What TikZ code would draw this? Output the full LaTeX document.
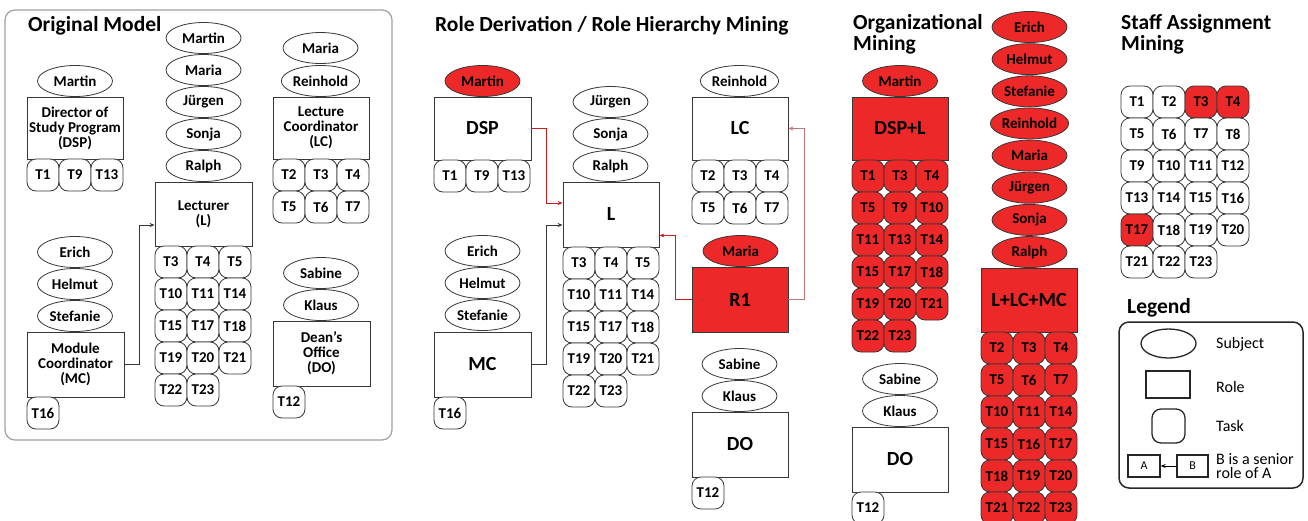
\documentclass[tikz,border=0pt]{standalone}
\usepackage{fontspec}
\setmainfont{Carlito}
\usetikzlibrary{arrows.meta,shapes.geometric}
\definecolor{myred}{RGB}{237,40,40}
\definecolor{edge}{RGB}{55,55,55}
\definecolor{arrred}{RGB}{200,30,30}
\definecolor{arrpink}{RGB}{195,120,120}
\definecolor{framegray}{RGB}{160,160,160}
\newcommand\tgrid[5]{%
  \foreach \tk [count=\ik from 0] in {#5} {%
    \pgfmathsetmacro\cx{#2+16+32*mod(\ik,3)}%
    \pgfmathsetmacro\cy{#3+16+32*int(\ik/3)}%
    \node[#4] (#1\tk) at (\cx,\cy) {\tk};
  }}
\tikzset{
  base/.style={draw=edge, line width=0.8pt, font=\fontsize{15}{15}\selectfont\bfseries, inner sep=0pt, text=black},
  subj/.style={base, ellipse, minimum width=75pt, minimum height=31pt, fill=white},
  subjr/.style={subj, fill=myred},
  role/.style={base, rectangle, minimum width=96pt, minimum height=63pt, align=center, fill=white},
  rolebig/.style={role, font=\fontsize{20}{21}\selectfont\bfseries},
  roler/.style={rolebig, fill=myred},
  task/.style={base, rectangle, rounded corners=9pt, minimum width=32pt, minimum height=32pt, fill=white},
  taskr/.style={task, fill=myred},
  title/.style={font=\fontsize{21.5}{21}\selectfont\bfseries, inner sep=0pt, align=left},
  arr/.style={draw=edge, line width=0.8pt, -{Stealth[length=5pt,width=4pt]}},
  lshape/.style={draw=black!85, line width=1.3pt, fill=white, inner sep=0pt, font=\fontsize{12}{12}\selectfont},
  ltext/.style={anchor=west, inner sep=0pt, font=\fontsize{16}{14}\selectfont, align=left},
}
\begin{document}
\begin{tikzpicture}[x=1pt,y=-1pt]
\useasboundingbox (0,0) rectangle (1308,520);
% ---------------- Original Model
\node[draw=framegray, line width=1.2pt, rounded corners=10pt, minimum width=387pt, minimum height=430pt, inner sep=0pt] (omframe) at (198.5,225) {};
\node[title, anchor=base west] (omtitle) at (28,31) {Original Model};
\node[subj] (om-dsp-s1) at (75,81) {Martin};
\node[role, minimum height=62pt] (om-dsp) at (75,128) {Director of\\Study Program\\(DSP)};
\tgrid{om-dsp-}{27}{159}{task}{T1,T9,T13}
\node[subj] (om-l-s1) at (203.5,38) {Martin};
\node[subj] (om-l-s2) at (203.5,70) {Maria};
\node[subj] (om-l-s3) at (203.5,102) {Jürgen};
\node[subj] (om-l-s4) at (203.5,134) {Sonja};
\node[subj] (om-l-s5) at (203.5,166) {Ralph};
\node[role, minimum width=97pt, minimum height=64pt] (om-l) at (203.5,214) {Lecturer\\(L)};
\tgrid{om-l-}{155}{246}{task}{T3,T4,T5,T10,T11,T14,T15,T17,T18,T19,T20,T21,T22,T23}
\node[subj] (om-lc-s1) at (320.5,48) {Maria};
\node[subj] (om-lc-s2) at (320.5,81) {Reinhold};
\node[role, minimum height=62pt] (om-lc) at (321,128) {Lecture\\Coordinator\\(LC)};
\tgrid{om-lc-}{273}{159}{task}{T2,T3,T4,T5,T6,T7}
\node[subj] (om-mc-s1) at (75,252) {Erich};
\node[subj] (om-mc-s2) at (75,284) {Helmut};
\node[subj] (om-mc-s3) at (75,316) {Stefanie};
\node[role, minimum width=97pt, minimum height=65pt] (om-mc) at (75.5,364.5) {Module\\Coordinator\\(MC)};
\tgrid{om-mc-}{27}{397}{task}{T16}
\node[subj] (om-do-s1) at (321,273) {Sabine};
\node[subj] (om-do-s2) at (321,305) {Klaus};
\node[role, minimum width=97pt, minimum height=65pt] (om-do) at (321.5,353.5) {Dean's\\Office\\(DO)};
\tgrid{om-do-}{273}{386}{task}{T12}
\draw[arr] (om-mc.east) -- ++(15,0) |- ([yshift=-11pt]om-l.west);
% ---------------- Role Derivation
\node[title, anchor=base west] (rdtitle) at (435,31) {Role Derivation / Role Hierarchy Mining};
\node[subjr] (rd-dsp-s1) at (482.5,81) {Martin};
\node[rolebig, minimum width=97pt] (rd-dsp) at (482.5,128.5) {DSP};
\tgrid{rd-dsp-}{434}{160}{task}{T1,T9,T13}
\node[subj] (rd-l-s1) at (610.5,102) {Jürgen};
\node[subj] (rd-l-s2) at (610.5,134) {Sonja};
\node[subj] (rd-l-s3) at (610.5,166) {Ralph};
\node[rolebig, minimum height=65pt] (rd-l) at (611,214.5) {L};
\tgrid{rd-l-}{563}{247}{task}{T3,T4,T5,T10,T11,T14,T15,T17,T18,T19,T20,T21,T22,T23}
\node[subj] (rd-lc-s1) at (739.5,81) {Reinhold};
\node[rolebig] (rd-lc) at (740,128.5) {LC};
\tgrid{rd-lc-}{692}{160}{task}{T2,T3,T4,T5,T6,T7}
\node[subjr] (rd-r1-s1) at (740.5,251) {Maria};
\node[roler, minimum height=65pt] (rd-r1) at (740,299.5) {R1};
\node[subj] (rd-do-s1) at (739.5,364) {Sabine};
\node[subj] (rd-do-s2) at (739.5,396) {Klaus};
\node[rolebig, minimum height=65pt] (rd-do) at (740,444.5) {DO};
\tgrid{rd-do-}{692}{477}{task}{T12}
\node[subj] (rd-mc-s1) at (482.5,251) {Erich};
\node[subj] (rd-mc-s2) at (482.5,283) {Helmut};
\node[subj] (rd-mc-s3) at (482.5,315) {Stefanie};
\node[rolebig, minimum width=97pt, minimum height=65pt] (rd-mc) at (482.5,364.5) {MC};
\tgrid{rd-mc-}{434}{397}{task}{T16}
\draw[arr, draw=arrred] (rd-dsp.east) -- ++(15,0) |- ([yshift=11.5pt]rd-l.west);
\draw[arr] (rd-mc.east) -- ++(15,0) |- ([yshift=-10.5pt]rd-l.west);
\draw[arr, draw=arrred] (rd-r1.west) -- ++(-16,0) |- ([yshift=-21pt]rd-l.east);
\draw[arr, draw=arrpink] (rd-r1.east) -- ++(16,0) |- (rd-lc.east);
% ---------------- Organizational Mining
\node[title, anchor=north west] (orgtitle) at (853,14) {Organizational\\Mining};
\node[subjr] (org-a-s1) at (900,81) {Martin};
\node[roler] (org-a) at (900,128.5) {DSP+L};
\tgrid{org-a-}{852}{160}{taskr}{T1,T3,T4,T5,T9,T10,T11,T13,T14,T15,T17,T18,T19,T20,T21,T22,T23}
\node[subj] (org-do-s1) at (900,379) {Sabine};
\node[subj] (org-do-s2) at (900,411) {Klaus};
\node[rolebig, minimum height=65pt] (org-do) at (900,459.5) {DO};
\tgrid{org-do-}{852}{492}{task}{T12}
\foreach \nm [count=\k from 0] in {Erich,Helmut,Stefanie,Reinhold,Maria,Jürgen,Sonja,Ralph}
  \node[subjr] (org-b-s\k) at (1029.5,{27+32.15*\k}) {\nm};
\node[roler, minimum height=64pt] (org-b) at (1029,300) {L+LC+MC};
\tgrid{org-b-}{981}{332}{taskr}{T2,T3,T4,T5,T6,T7,T10,T11,T14,T15,T16,T17,T18,T19,T20,T21,T22,T23}
% ---------------- Staff Assignment Mining
\node[title, anchor=north west] (sattitle) at (1121,14) {Staff Assignment\\Mining};
\foreach \tk/\st [count=\ik from 0] in {T1/task,T2/task,T3/taskr,T4/taskr,T5/task,T6/task,T7/task,T8/task,T9/task,T10/task,T11/task,T12/task,T13/task,T14/task,T15/task,T16/task,T17/taskr,T18/task,T19/task,T20/task,T21/task,T22/task,T23/task} {
  \pgfmathsetmacro\cx{1121+16+32*mod(\ik,4)}
  \pgfmathsetmacro\cy{86+16+32*int(\ik/4)}
  \node[\st] (sa-\tk) at (\cx,\cy) {\tk};
}
% ---------------- Legend
\node[title, anchor=base west] (legtitle) at (1127,313) {Legend};
\node[draw=black!85, line width=1.5pt, rounded corners=10pt, minimum width=184pt, minimum height=166pt, inner sep=0pt] (legframe) at (1211,405) {};
\node[lshape, ellipse, minimum width=55pt, minimum height=29pt] (leg-subj) at (1168.5,343.5) {};
\node[lshape, minimum width=44pt, minimum height=27pt] (leg-role) at (1168,384.5) {};
\node[lshape, rounded corners=9pt, minimum width=33pt, minimum height=34pt] (leg-task) at (1168.5,426) {};
\node[lshape, minimum width=32pt, minimum height=22pt] (leg-a) at (1144,466) {A};
\node[lshape, minimum width=31pt, minimum height=22pt] (leg-b) at (1192.5,466) {B};
\draw[arr, draw=black] (leg-b) -- (leg-a);
\node[ltext] (leg-t1) at (1216,344) {Subject};
\node[ltext] (leg-t2) at (1216,387) {Role};
\node[ltext] (leg-t3) at (1216,426) {Task};
\node[ltext] (leg-t4) at (1216,466) {B is a senior\\role of A};
\end{tikzpicture}
\end{document}
